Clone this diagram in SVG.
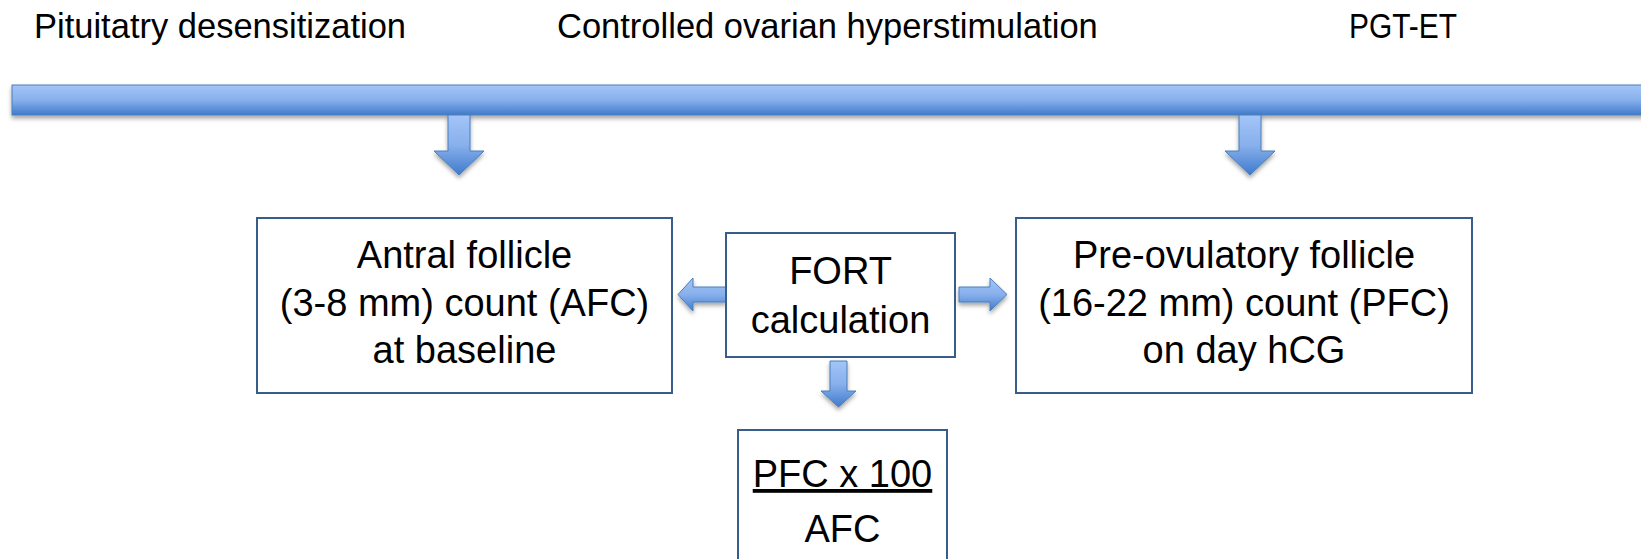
<svg xmlns="http://www.w3.org/2000/svg" width="1641" height="559" viewBox="0 0 1641 559">
  <style>
    .lbl { font-family: "Liberation Sans", Arial, sans-serif; font-size: 34.5px; fill: #000; }
    .txt { font-family: "Liberation Sans", Arial, sans-serif; font-size: 38px; fill: #000; text-anchor: middle; }
    .box { fill: #ffffff; stroke: #385d8a; stroke-width: 2; }
    .blk { fill: url(#blueGrad); stroke: #4a7ebb; stroke-width: 1; filter: url(#shadow); }
  </style>
  <defs>
    <linearGradient id="blueGrad" x1="0" y1="0" x2="0" y2="1">
      <stop offset="0" stop-color="#a3c5f8"/>
      <stop offset="0.5" stop-color="#88b0ec"/>
      <stop offset="1" stop-color="#3f7bcc"/>
    </linearGradient>
    <filter id="shadow" x="-10%" y="-30%" width="120%" height="180%">
      <feDropShadow dx="0" dy="3" stdDeviation="2" flood-color="#000" flood-opacity="0.35"/>
    </filter>
  </defs>
  <rect width="1641" height="559" fill="#ffffff"/>

  <g id="timeline">
    <rect class="blk" x="12" y="85" width="1640" height="30"/>
  </g>

  <g id="phase-labels">
    <text class="lbl" x="34" y="38">Pituitatry desensitization</text>
    <text class="lbl" x="557" y="38">Controlled ovarian hyperstimulation</text>
    <text class="lbl" x="1349" y="38" textLength="108" lengthAdjust="spacingAndGlyphs">PGT-ET</text>
  </g>

  <g id="connectors">
    <path class="blk" d="M448,115 L470,115 L470,151 L484,151 L459,175 L434,151 L448,151 Z"/>
    <path class="blk" d="M1239,115 L1261,115 L1261,151 L1275,151 L1250,175 L1225,151 L1239,151 Z"/>
    <path class="blk" d="M726,287 L693,287 L693,278 L678,294.5 L693,311 L693,302 L726,302 Z"/>
    <path class="blk" d="M959,287 L990,287 L990,278 L1007,294.5 L990,311 L990,302 L959,302 Z"/>
    <path class="blk" d="M830,361 L847,361 L847,391 L856,391 L838.5,407 L821,391 L830,391 Z"/>
  </g>

  <g id="node-afc">
    <rect class="box" x="257" y="218" width="415" height="175"/>
    <text class="txt" x="464.5" y="268">Antral follicle</text>
    <text class="txt" x="464.5" y="315.5">(3-8 mm) count (AFC)</text>
    <text class="txt" x="464.5" y="363">at baseline</text>
  </g>

  <g id="node-fort">
    <rect class="box" x="726" y="233" width="229" height="124"/>
    <text class="txt" x="840.5" y="284">FORT</text>
    <text class="txt" x="840.5" y="333">calculation</text>
  </g>

  <g id="node-pfc">
    <rect class="box" x="1016" y="218" width="456" height="175"/>
    <text class="txt" x="1244" y="268">Pre-ovulatory follicle</text>
    <text class="txt" x="1244" y="315.5">(16-22 mm) count (PFC)</text>
    <text class="txt" x="1244" y="363">on day hCG</text>
  </g>

  <g id="node-formula">
    <rect class="box" x="738" y="430" width="209" height="150"/>
    <text class="txt" x="842.5" y="487" text-decoration="underline">PFC x 100</text>
    <text class="txt" x="842.5" y="542">AFC</text>
  </g>
</svg>
